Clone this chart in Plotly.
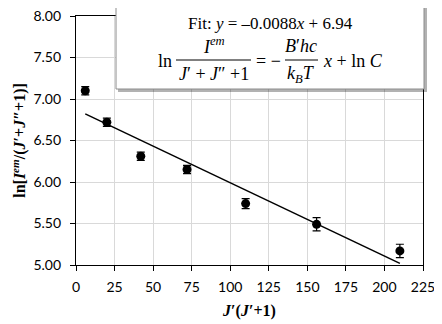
import plotly.graph_objects as go

# J'(J'+1) values and ln[I/(J'+J''+1)]
jj = [6, 20, 42, 72, 110, 156, 210]
ln_val = [7.10, 6.72, 6.31, 6.15, 5.74, 5.49, 5.17]
err = [0.05, 0.05, 0.05, 0.05, 0.06, 0.08, 0.08]

# fitted line end points as drawn
fit_x = [6, 210]
fit_y = [6.82, 5.02]

# the page body has an 8px margin, so the figure is shrunk to fit the window
OFF = 8
W, H = 442 - OFF, 324 - OFF
L, R, T, B = 76 - OFF, 19, 16 - OFF, 59
PW, PH = W - L - R, H - T - B


def px(x):
    # window pixel -> paper fraction
    return (x - OFF - L) / PW


def py(y):
    return 1 - (y - OFF - T) / PH


fig = go.Figure()
fig.add_trace(go.Scatter(x=fit_x, y=fit_y, mode="lines", line=dict(color="black", width=1.5), hoverinfo="skip"))
fig.add_trace(go.Scatter(
    x=jj, y=ln_val, mode="markers",
    marker=dict(color="black", size=9),
    error_y=dict(type="data", array=err, color="black", thickness=1.2, width=4),
))

serif = "Liberation Serif, Times New Roman, serif"

# box with the fit equation
shapes = [
    dict(type="rect", xref="paper", yref="paper", x0=px(118), x1=px(427), y0=py(92), y1=py(8),
         fillcolor="rgba(0,0,0,0.3)", line=dict(width=0), layer="above"),
    dict(type="rect", xref="paper", yref="paper", x0=px(116), x1=px(424), y0=py(89), y1=py(6),
         fillcolor="white", line=dict(color="#8c8c8c", width=1), layer="above"),
    dict(type="line", xref="paper", yref="paper", x0=px(176), x1=px(251), y0=py(60), y1=py(60),
         line=dict(color="black", width=1), layer="above"),
    dict(type="line", xref="paper", yref="paper", x0=px(285), x1=px(318), y0=py(60), y1=py(60),
         line=dict(color="black", width=1), layer="above"),
]

def txt(x, y, s, size=18, anchor="center"):
    return dict(xref="paper", yref="paper", x=px(x), y=py(y), text=s, showarrow=False,
                xanchor=anchor, yanchor="middle", font=dict(family=serif, size=size, color="black"))

annotations = [
    txt(270, 24, "Fit: <i>y</i> = –0.0088<i>x</i> + 6.94", size=17),
    txt(165, 61, "ln"),
    txt(214, 46, "<i>I</i><sup><i>em</i></sup>"),
    txt(214, 74, "<i>J</i>′ + <i>J</i>″ +1"),
    txt(268, 61, "= −"),
    txt(301, 46, "<i>B</i>′<i>hc</i>"),
    txt(301, 74, "<i>k</i><sub><i>B</i></sub><i>T</i>"),
    txt(321, 61, "<i>x</i> + ln <i>C</i>", anchor="left"),
]

fig.update_layout(
    width=W, height=H,
    margin=dict(l=L, r=R, t=T, b=B, autoexpand=False),
    plot_bgcolor="white", paper_bgcolor="white",
    showlegend=False,
    shapes=shapes, annotations=annotations,
    font=dict(family="Lato, Open Sans, sans-serif", size=14, color="black"),
)
fig.update_xaxes(
    range=[0, 225], dtick=25, tick0=0, automargin=False, ticklabeloverflow="allow",
    showgrid=True, gridcolor="#d9d9d9", gridwidth=1,
    showline=True, linecolor="black", linewidth=1.3, mirror=True,
    ticks="outside", ticklen=5, tickcolor="black", zeroline=False, ticklabelstandoff=4,
    title=dict(text="<b><i>J</i>′(<i>J</i>′+1)</b>", font=dict(family=serif, size=16), standoff=10),
)
fig.update_yaxes(
    range=[5, 8], dtick=0.5, tick0=5, tickformat=".2f", automargin=False, ticklabeloverflow="allow",
    showgrid=True, gridcolor="#d9d9d9", gridwidth=1,
    showline=True, linecolor="black", linewidth=1.3, mirror=True,
    ticks="outside", ticklen=5, tickcolor="black", zeroline=False, ticklabelstandoff=6,
    title=dict(text="<b>ln[<i>I</i><sup><i>em</i></sup>/(<i>J</i>′+<i>J</i>″+1)]</b>",
               font=dict(family=serif, size=16), standoff=3),
)

fig.write_html("out.html")
